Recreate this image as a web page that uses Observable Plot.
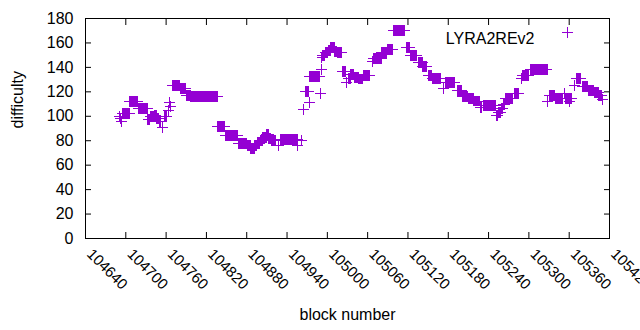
<!DOCTYPE html>
<html><head><meta charset="utf-8">
<script src="https://cdn.jsdelivr.net/npm/d3@7"></script>
<script src="https://cdn.jsdelivr.net/npm/@observablehq/plot@0.6"></script>
<style>body{margin:0;background:#fff;} #chart svg{display:block;}</style>
</head><body><div id="chart"></div>
<script>
const seriesName = "LYRA2REv2";
const xLabel = "block number";
const yLabel = "difficulty";
const xTicks = [104640, 104700, 104760, 104820, 104880, 104940, 105000, 105060, 105120, 105180, 105240, 105300, 105360, 105420];
const yTicks = [0, 20, 40, 60, 80, 100, 120, 140, 160, 180];

// runs of consecutive blocks sharing one difficulty value (start block, end block, difficulty)
const runStart = [104690,104692,104693,104695,104706,104719,104733,104737,104742,104746,104750,104754,104758,104763,104765,104766,104770,104781,104791,104797,104837,104848,104868,104881,104886,104892,104896,104900,104904,104910,104913,104917,104928,104931,104956,104961,104964,104967,104973,104974,104990,104991,104992,104993,104997,105001,105005,105011,105015,105023,105029,105031,105035,105040,105047,105054,105067,105068,105081,105089,105099,105118,105124,105135,105142,105150,105156,105173,105176,105193,105201,105210,105218,105228,105233,105252,105255,105259,105262,105265,105278,105289,105291,105303,105328,105330,105340,105353,105355,105360,105368,105371,105380,105388,105397,105404,105410];
const runEnd   = [104690,104692,104694,104705,104718,104732,104736,104741,104745,104749,104752,104755,104761,104763,104765,104766,104780,104789,104796,104836,104847,104867,104880,104885,104891,104895,104899,104903,104909,104912,104916,104923,104928,104955,104956,104961,104964,104972,104973,104989,104990,104991,104992,104996,105000,105004,105010,105014,105021,105027,105029,105034,105039,105046,105053,105063,105067,105080,105088,105097,105115,105122,105133,105141,105148,105155,105168,105173,105190,105200,105209,105217,105226,105230,105250,105254,105258,105261,105264,105275,105285,105289,105300,105327,105328,105338,105350,105353,105363,105360,105368,105377,105387,105396,105403,105408,105410];
const runDiff  = [100,98,96,102.5,112,106.5,97,100,101,98,96,91,99.5,105,111.5,108,125,122.5,117,116,91.5,84,77.5,76,74,76,78,80,82.5,85,82,80,76,81,76,80,105.5,120,111,132.5,119,138,148,150,152,154,156,153,152,137,127.5,131,134,132,130.5,133,145,147,152,155,170.5,156,150,144,141,133,131,122.5,127.5,121,116.5,114.5,112.5,107,109,101,103,106,110,114.5,118.5,131,133.5,138.5,112,117,114.5,119,114.5,112,125,131,124,121,119.5,117,114];

const color = "#9400d3";
const points = runStart.flatMap((s, i) =>
  d3.range(s, runEnd[i] + 1).map(b => ({block: b, difficulty: runDiff[i]})));

const chart = Plot.plot({
  width: 640, height: 330,
  marginLeft: 85, marginRight: 31, marginTop: 18, marginBottom: 92,
  style: {fontFamily: "'Liberation Sans', Arial, sans-serif", fontSize: "16px", color: "#000", background: "#fff"},
  x: {domain: [104640, 105420]},
  y: {domain: [0, 180]},
  marks: [
    Plot.axisX(xTicks, {anchor: "bottom", tickSize: 0, tickPadding: 13, dx: 4, tickRotate: 45, tickFormat: "d", label: null, fontSize: 15}),
    Plot.axisX(xTicks, {anchor: "bottom", tickSize: 6, dy: -6, text: null, label: null}),
    Plot.axisX(xTicks, {anchor: "top", tickSize: 6, dy: 6, text: null, label: null}),
    Plot.axisY(yTicks, {anchor: "left", tickSize: 0, tickPadding: 12, label: null, fontSize: 16}),
    Plot.axisY(yTicks, {anchor: "left", tickSize: 6, dx: 6, text: null, label: null}),
    Plot.axisY(yTicks, {anchor: "right", tickSize: 6, dx: -6, text: null, label: null}),
    Plot.frame({stroke: "#000"}),
    Plot.dot(points, {x: "block", y: "difficulty", symbol: "plus", r: 3.6, stroke: color, strokeWidth: 1, shapeRendering: "crispEdges"}),
    Plot.text([yLabel], {frameAnchor: "left", dx: -68, rotate: -90, fontSize: 16}),
    Plot.text([xLabel], {frameAnchor: "bottom", dy: 81, fontSize: 16}),
    Plot.text([seriesName], {frameAnchor: "top-right", dx: -75, dy: 14, textAnchor: "end", fontSize: 16}),
    Plot.dot([seriesName], {frameAnchor: "top-right", dx: -42, dy: 14, symbol: "plus", r: 3.6, stroke: color, strokeWidth: 1, shapeRendering: "crispEdges"})
  ]
});
document.getElementById("chart").append(chart);
</script>
</body></html>
